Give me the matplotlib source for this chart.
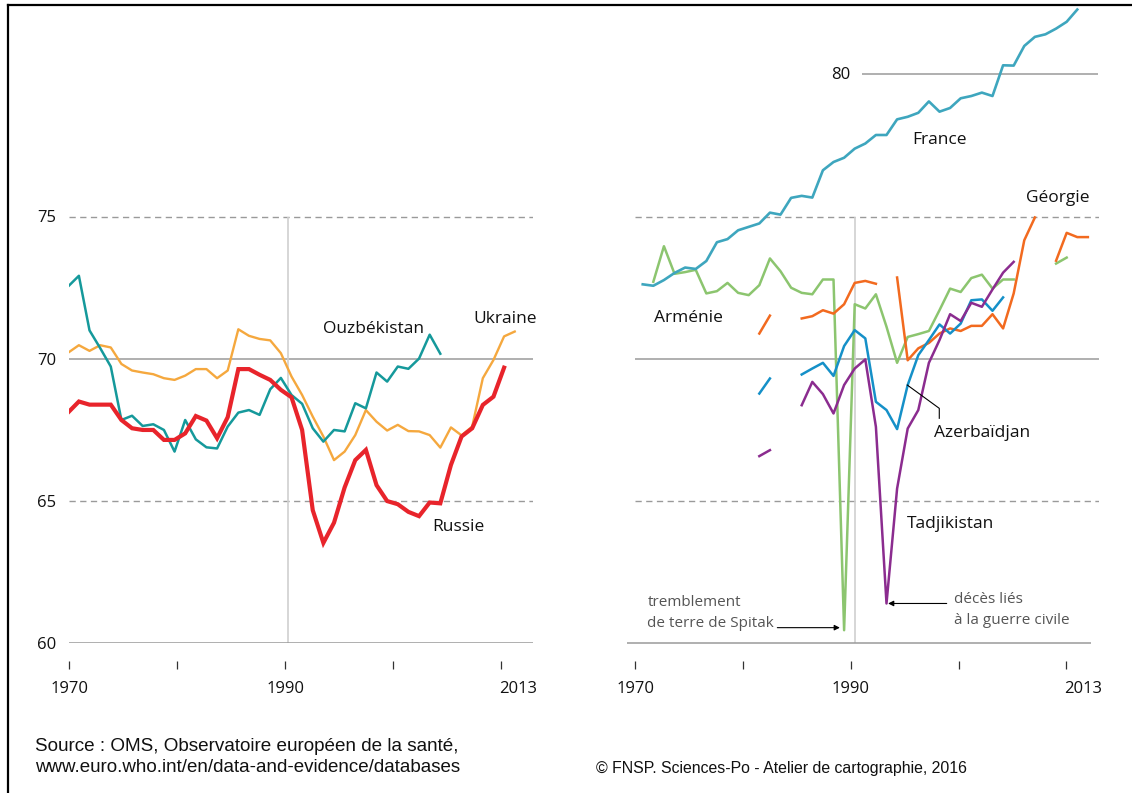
import numpy as np
import matplotlib
matplotlib.use("Agg")
import matplotlib.pyplot as plt
from matplotlib.lines import Line2D

plt.rcParams['font.family'] = ['Open Sans', 'DejaVu Sans']

nan = np.nan

# ---- left panel : life expectancy (years)
russia_years = np.arange(1970, 2012)
russia = [68.12, 68.50, 68.39, 68.39, 68.39, 67.85, 67.56, 67.50, 67.50, 67.15,
          67.15, 67.38, 67.99, 67.83, 67.21, 67.95, 69.64, 69.64, 69.44, 69.26,
          68.91, 68.65, 67.50, 64.68, 63.53, 64.24, 65.48, 66.44, 66.80, 65.56,
          65.00, 64.89, 64.62, 64.47, 64.95, 64.92, 66.27, 67.27, 67.56, 68.38,
          68.67, 69.69]

ukraine_years = np.arange(1970, 2013)
ukraine = [70.22, 70.48, 70.28, 70.48, 70.40, 69.82, 69.59, 69.52, 69.46, 69.32,
           69.26, 69.41, 69.64, 69.64, 69.32, 69.59, 71.04, 70.81, 70.70, 70.65,
           70.20, 69.38, 68.73, 67.97, 67.27, 66.44, 66.74, 67.32, 68.20, 67.79,
           67.48, 67.68, 67.46, 67.45, 67.32, 66.88, 67.59, 67.31, 67.62, 69.32,
           69.96, 70.79, 70.96]

uzbek_years = np.arange(1970, 2006)
uzbek = [72.55, 72.92, 71.00, 70.38, 69.73, 67.85, 68.00, 67.64, 67.70, 67.50,
         66.74, 67.85, 67.17, 66.89, 66.85, 67.62, 68.11, 68.20, 68.03, 68.93,
         69.33, 68.73, 68.42, 67.56, 67.09, 67.50, 67.45, 68.44, 68.26, 69.52,
         69.20, 69.73, 69.65, 70.01, 70.85, 70.18]

# ---- right panel
france_years = np.arange(1970, 2012)
france = [72.62, 72.57, 72.77, 73.02, 73.21, 73.16, 73.44, 74.10, 74.21, 74.52,
          74.64, 74.76, 75.14, 75.07, 75.66, 75.73, 75.67, 76.63, 76.92, 77.07,
          77.39, 77.57, 77.87, 77.87, 78.42, 78.51, 78.65, 79.05, 78.69, 78.82,
          79.16, 79.24, 79.36, 79.24, 80.32, 80.31, 81.00, 81.32, 81.41, 81.61,
          81.85, 82.28]

armenia_years = np.arange(1971, 2011)
armenia = [72.71, 73.96, 72.99, 73.05, 73.13, 72.30, 72.38, 72.67, 72.32, 72.24,
           72.59, 73.53, 73.08, 72.50, 72.32, 72.27, 72.79, 72.79, 60.46, 71.92,
           71.77, 72.27, 71.13, 69.86, 70.77, 70.87, 70.98, 71.71, 72.47, 72.35,
           72.84, 72.96, 72.47, 72.79, 72.79, nan, nan, nan, 73.35, 73.56]

georgia_years = np.arange(1981, 2013)
georgia = [70.89, 71.52, nan, nan, 71.42, 71.50, 71.71, 71.59, 71.92, 72.67,
           72.74, 72.64, nan, 72.86, 69.95, 70.37, 70.56, 70.89, 71.07, 70.98,
           71.16, 71.16, 71.57, 71.07, 72.30, 74.17, 74.97, nan, 73.45, 74.43,
           74.28, 74.28]

azer_years = np.arange(1981, 2005)
azer = [68.78, 69.31, nan, nan, 69.45, 69.66, 69.86, 69.40, 70.45, 71.01,
        70.72, 68.49, 68.20, 67.53, 69.08, 70.13, 70.66, 71.21, 70.89, 71.24,
        72.06, 72.09, 71.69, 72.16]

tajik_years = np.arange(1981, 2006)
tajik = [66.58, 66.79, nan, nan, 68.37, 69.19, 68.76, 68.08, 69.08, 69.66,
         69.98, 67.61, 61.40, 65.44, 67.55, 68.20, 69.86, 70.66, 71.57, 71.33,
         71.97, 71.83, 72.44, 73.03, 73.41]

grey = '#9a9a9a'
txt = '#111111'

fig = plt.figure(figsize=(11.32, 7.93), dpi=100)
W, H = 1132, 793
bottom = (H - 643.3) / H
height = (643.3 - 5) / H

ax1 = fig.add_axes([69 / W, bottom, 464 / W, height])
ax2 = fig.add_axes([635 / W, bottom, 464 / W, height])

panels = [
    (ax1, (1970.07, 2013.72), 1970.1, 10.15, 1990.7),
    (ax2, (1969.27, 2013.05), 1969.3, 10.17, 1990.0),
]

for ax, xlim, t0, step, vline in panels:
    ax.set_xlim(*xlim)
    ax.set_ylim(60, 82.44)
    ax.axis('off')
    ax.axhline(70, color=grey, lw=1.1, zorder=1)
    for v in (65, 75):
        ax.axhline(v, color=grey, lw=1.0, ls=(0, (4.5, 3.2)), zorder=1)
    ax.vlines(vline, 60, 75, color='#d0d0d0', lw=1.2, zorder=1)
    ticks = t0 + step * np.arange(5)
    ax.vlines(ticks, 59.09, 59.39, color='#333333', lw=0.9, clip_on=False)
    for x, lab in [(ticks[0], '1970'), (ticks[2], '1990'), (ticks[4] + 1.6, '2013')]:
        ax.text(x, 58.26, lab, ha='center', va='baseline', fontsize=12, color=txt)

ax1.axhline(60, color=grey, lw=1.1, zorder=1)
ax2.hlines(60, 1968.5, 2012.26, color=grey, lw=1.1, zorder=1, clip_on=False)

# left y labels
for v in (60, 65, 70, 75):
    ax1.text(1968.85, v - 0.2, str(v), ha='right', va='baseline', fontsize=12, color=txt)

# left series
ax1.plot(ukraine_years, ukraine, color='#f5a83e', lw=1.7, zorder=3)
ax1.plot(uzbek_years, uzbek, color='#15999b', lw=1.8, zorder=4)
ax1.plot(russia_years, russia, color='#e8242b', lw=3.0, zorder=5,
         solid_joinstyle='miter')

ax1.text(1993.99, 70.90, 'Ouzbékistan', fontsize=12.5, color=txt, va='baseline')
ax1.text(2008.1, 71.26, 'Ukraine', fontsize=12.5, color=txt, va='baseline')
ax1.text(2004.28, 63.95, 'Russie', fontsize=12.5, color=txt, va='baseline')

# right panel
ax2.hlines(80, 1990.7, 2013.0, color=grey, lw=1.1, zorder=1)
ax2.text(1989.56, 79.85, '80', ha='right', va='baseline', fontsize=12, color=txt)

ax2.plot(armenia_years, armenia, color='#8cc56f', lw=1.8, zorder=3, clip_on=False)
ax2.plot(georgia_years, georgia, color='#f26a1f', lw=1.8, zorder=4, clip_on=False)
ax2.plot(azer_years, azer, color='#1590c8', lw=1.8, zorder=5, clip_on=False)
ax2.plot(tajik_years, tajik, color='#8b2c8f', lw=1.8, zorder=6, clip_on=False)
ax2.plot(france_years, france, color='#3ea6be', lw=1.9, zorder=7, clip_on=False)

ax2.text(1995.47, 77.55, 'France', fontsize=12.5, color=txt, va='baseline')
ax2.text(2006.16, 75.52, 'Géorgie', fontsize=12.5, color=txt, va='baseline')
ax2.text(1971.07, 71.30, 'Arménie', fontsize=12.5, color=txt, va='baseline')
ax2.text(1997.48, 67.24, 'Azerbaïdjan', fontsize=12.5, color=txt, va='baseline')
ax2.text(1994.96, 64.07, 'Tadjikistan', fontsize=12.5, color=txt, va='baseline')

# leader for Azerbaijan
ax2.plot([1994.96, 1997.98, 1997.98], [69.08, 68.26, 67.91], color='black', lw=0.8, zorder=8)

# annotations
for i, line in enumerate(['tremblement', 'de terre de Spitak']):
    ax2.text(1970.43, 61.32 - 0.74 * i, line, fontsize=11, color='#555555', va='baseline')
for i, line in enumerate(['décès liés', 'à la guerre civile']):
    ax2.text(1999.37, 61.40 - 0.73 * i, line, fontsize=11, color='#555555', va='baseline')

arrow = dict(arrowstyle='-|>', color='black', lw=0.8, mutation_scale=8, shrinkA=0, shrinkB=0)
ax2.annotate('', xy=(1988.6, 60.55), xytext=(1982.7, 60.55), arrowprops=arrow)
ax2.annotate('', xy=(1993.15, 61.40), xytext=(1998.68, 61.40), arrowprops=arrow)

# frame and footer
fig.add_artist(Line2D([8 / W, 8 / W], [0, 1 - 5 / H], color='black', lw=1.6))
fig.add_artist(Line2D([8 / W, 1], [1 - 5 / H, 1 - 5 / H], color='black', lw=1.6))

foot = dict(family=['Liberation Sans', 'DejaVu Sans'], color=txt, va='baseline')
fig.text(35 / W, 1 - 751 / H, 'Source : OMS, Observatoire européen de la santé,', fontsize=13.6, **foot)
fig.text(35 / W, 1 - 772 / H, 'www.euro.who.int/en/data-and-evidence/databases', fontsize=13.5, **foot)
fig.text(596 / W, 1 - 773 / H, '© FNSP. Sciences-Po - Atelier de cartographie, 2016', fontsize=11.4, **foot)

fig.savefig('out.png', dpi=100)
